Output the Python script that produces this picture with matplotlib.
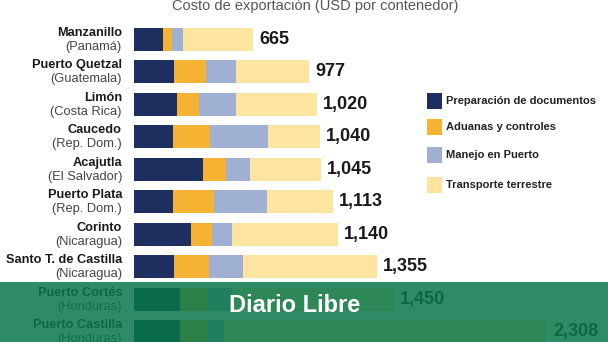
import matplotlib
matplotlib.use("Agg")
import matplotlib.pyplot as plt
from matplotlib.patches import Rectangle
import numpy as np

# Datos: costo de exportación por puerto (USD por contenedor)
PORTS = ["Manzanillo", "Puerto Quetzal", "Limón", "Caucedo", "Acajutla",
         "Puerto Plata", "Corinto", "Santo T. de Castilla", "Puerto Cortés",
         "Puerto Castilla"]
COUNTRIES = ["(Panamá)", "(Guatemala)", "(Costa Rica)", "(Rep. Dom.)",
             "(El Salvador)", "(Rep. Dom.)", "(Nicaragua)", "(Nicaragua)",
             "(Honduras)", "(Honduras)"]
DOCS = [160, 225, 240, 220, 385, 220, 320, 225, 255, 255]
ADUANAS = [55, 175, 125, 205, 130, 225, 115, 195, 160, 160]
PUERTO = [60, 170, 205, 325, 135, 300, 110, 190, 130, 90]
TRANSPORTE = [390, 407, 450, 290, 395, 368, 595, 745, 905, 1803]
TOTALS = [665, 977, 1020, 1040, 1045, 1113, 1140, 1355, 1450, 2308]

SERIES = ["Preparación de documentos", "Aduanas y controles",
          "Manejo en Puerto", "Transporte terrestre"]
COLORS = ["#1c2f5e", "#f6b232", "#a0b0d2", "#fde4a0"]

NARROW = ["Liberation Sans", "DejaVu Sans"]

fig = plt.figure(figsize=(6.08, 3.42), dpi=100)
ax = fig.add_axes([134 / 608, 0, 1 - 134 / 608, 1])
ax.set_xlim(0, (608 - 134) / 0.179)
ax.set_ylim(9.322, -1.217)
ax.axis("off")

y = np.arange(len(PORTS))
left = np.zeros(len(PORTS))
for vals, col in zip([DOCS, ADUANAS, PUERTO, TRANSPORTE], COLORS):
    ax.barh(y, vals, left=left, height=0.71, color=col, linewidth=0)
    left += np.array(vals)

for i in range(len(PORTS)):
    ax.text(-12 / 0.179, i - 0.2, PORTS[i], ha="right", va="center",
            fontsize=9.2, fontweight="bold", family=NARROW, color="#1a1a1a",
            clip_on=False)
    ax.text(-12 / 0.179, i + 0.23, COUNTRIES[i], ha="right", va="center",
            fontsize=9.3, family=NARROW, color="#444444", clip_on=False)
    ax.text(TOTALS[i] + 6 / 0.179, i, f"{TOTALS[i]:,}", ha="left",
            va="center", fontsize=13, fontweight="bold", color="#1a1a1a",
            family=NARROW, clip_on=False)

fig.text(315 / 608, 1 - 6 / 342, "Costo de exportación (USD por contenedor)",
         ha="center", va="center", fontsize=10.5, family=NARROW,
         color="#555555")

# leyenda manual
leg_y = [101, 127, 155, 185]
for ly, lab, col in zip(leg_y, SERIES, COLORS):
    fig.patches.append(Rectangle((427 / 608, 1 - (ly + 8) / 342), 15 / 608,
                                 16 / 342, transform=fig.transFigure,
                                 color=col, linewidth=0))
    fig.text(446 / 608, 1 - ly / 342, lab, ha="left", va="center",
             fontsize=8, fontweight="bold", family=NARROW, color="#222222")

# banda verde de la marca de agua
band_h = (342 - 282) / 342
fig.patches.append(Rectangle((0, 0), 1, band_h, transform=fig.transFigure,
                             facecolor="#09774a", alpha=0.85, linewidth=0,
                             zorder=10))
fig.text(295 / 608, 1 - 305 / 342, "Diario Libre", ha="center", va="center",
         fontsize=17, fontweight="bold", family=NARROW, color="white",
         zorder=11)

fig.savefig("out.png", dpi=100)
